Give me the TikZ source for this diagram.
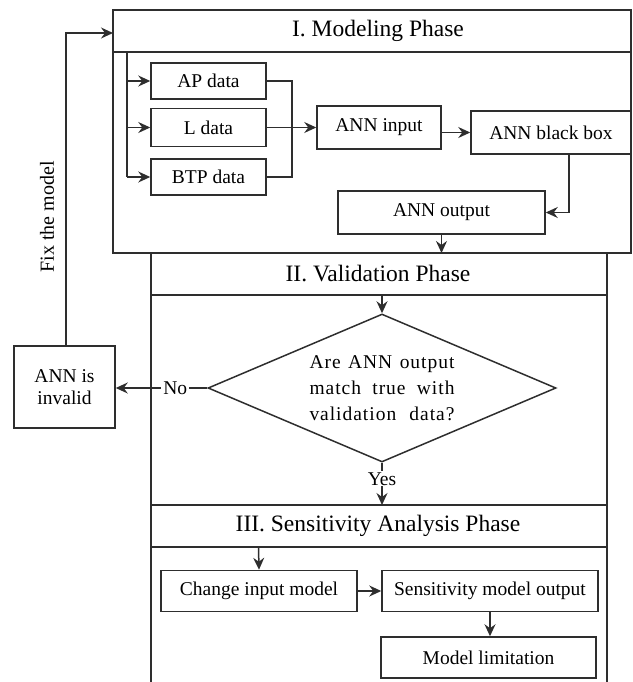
\documentclass[tikz,border=0pt]{standalone}
\usepackage{fontspec}
\setmainfont{Liberation Serif}
\usetikzlibrary{arrows.meta,shapes.geometric}
\newcommand\bodyf{\fontsize{19.5}{26}\selectfont}
\newcommand\titlef{\fontsize{23.5}{28}\selectfont}
\tikzset{
  lw/.style={line width=1.5pt, draw=black!82},
  box/.style={draw=black!82, line width=1.5pt, inner sep=0pt, font=\bodyf, align=center},
  arr/.style={-{Stealth[length=12pt,width=11pt,inset=4pt]}, line width=1.5pt, draw=black!82},
  ttl/.style={font=\titlef, inner sep=0pt},
  lbl/.style={font=\bodyf, fill=white, inner sep=2pt}
}
\begin{document}
\begin{tikzpicture}[x=1pt,y=-1pt]
\useasboundingbox (0,0) rectangle (632,682);

% containers
\node[lw, draw, minimum width=518pt, minimum height=243pt, inner sep=0pt] (mod) at (372,131.5) {};
\draw[lw] (113,52) -- (631,52);
\draw[lw] (151,253) -- (151,682);
\draw[lw] (607,253) -- (607,682);
\draw[lw] (151,295) -- (607,295);
\draw[lw] (151,505) -- (607,505);
\draw[lw] (151,547) -- (607,547);

\node[ttl] (t1) at (378,31) {I. Modeling Phase};
\node[ttl] (t2) at (378,274) {II. Validation Phase};
\node[ttl] (t3) at (378,526) {III. Sensitivity Analysis Phase};

% modeling phase
\node[box, minimum width=115pt, minimum height=36pt] (ap) at (208.5,81) {AP data};
\node[box, minimum width=115pt, minimum height=38pt] (ld) at (208.5,127.5) {L data};
\node[box, minimum width=115pt, minimum height=36pt] (btp) at (208.5,177) {BTP data};
\node[box, minimum width=124pt, minimum height=43pt] (in) at (379,127.5) {ANN input};
\node[box, minimum width=160pt, minimum height=43pt] (bb) at (551,132.5) {ANN black box};
\node[box, minimum width=207pt, minimum height=43pt] (out) at (441.5,212.5) {ANN output};

\coordinate (br) at (127,52);
\coordinate (mg) at (292,127.5);
\coordinate (bbo) at (569,154);
\coordinate (vtop) at (441.5,253);

\draw[lw] (br) -- (br |- btp.west);
\draw[arr] (br |- ap.west) -- (ap.west);
\draw[arr] (br |- ld.west) -- (ld.west);
\draw[arr] (br |- btp.west) -- (btp.west);
\draw[lw] (ap.east) -- (ap.east -| mg) -- (btp.east -| mg) -- (btp.east);
\draw[arr] (ld.east) -- (in.west);
\draw[arr] (bb.west -| in.east) -- (bb.west);
\draw[arr] (bbo) |- (out.east);
\draw[arr] (out.south) -- (vtop);

% validation phase
\node[draw=black!82, line width=1.5pt, shape=diamond, aspect=2.351, minimum width=348pt, minimum height=148pt, inner sep=0pt, font=\bodyf\addfontfeatures{LetterSpace=5.0}, align=center] (dia) at (382,388)
  {\makebox[145pt][s]{Are ANN output}\\\makebox[145pt][s]{match true with}\\\makebox[145pt][s]{validation data?}};
\node[box, minimum width=101pt, minimum height=82pt] (inv) at (64.5,387) {ANN is\\[-4pt]invalid};

\coordinate (vband) at (382,295);
\coordinate (fbend) at (113,33);
\coordinate (sband) at (382,505);

\draw[arr] (vband) -- (dia.north);
\draw[arr] (dia.west) -- node[lbl, pos=0.35] {No} (inv.east |- dia.west);
\draw[arr] (inv.north -| 66,0) |- (fbend);
\node[font=\fontsize{20}{24}\selectfont, rotate=90, inner sep=0pt] (fix) at (47,217) {Fix the model};
\draw[arr] (dia.south) -- node[lbl, inner sep=1pt, pos=0.38] {Yes} (sband);

% sensitivity phase
\node[box, minimum width=196pt, minimum height=41pt] (cim) at (259,591) {Change input model};
\node[box, minimum width=216pt, minimum height=41pt] (smo) at (490,591) {Sensitivity model output};
\node[box, minimum width=215pt, minimum height=41pt] (ml) at (488.5,657.5) {Model limitation};

\coordinate (sband2) at (258.5,547);
\draw[arr] (sband2) -- (cim.north);
\draw[arr] (cim.east) -- (smo.west);
\draw[arr] (smo.south) -- (smo.south |- ml.north);
\end{tikzpicture}
\end{document}
